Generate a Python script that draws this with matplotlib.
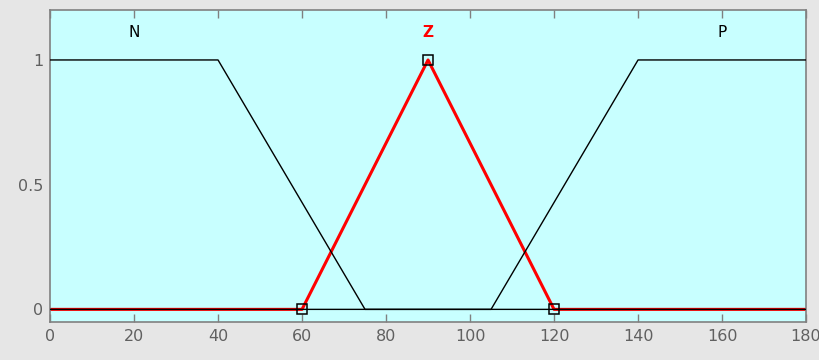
import numpy as np
import matplotlib
matplotlib.use("Agg")
import matplotlib.pyplot as plt

# membership functions (universe 0..180)
x_range = [0, 180]
mf_names = ["N", "Z", "P"]
n_params = [0, 0, 40, 75]       # trapmf
z_params = [60, 90, 120]        # trimf
p_params = [105, 140, 180, 180] # trapmf
label_x = [20, 90, 160]
xticks = [0, 20, 40, 60, 80, 100, 120, 140, 160, 180]
yticks = [0, 0.5, 1]
ytick_labels = ["0", "0.5", "1"]


def trap_points(p):
    a, b, c, d = p
    xs = [x_range[0], a, b, c, d, x_range[1]]
    ys = [0, 0, 1, 1, 0, 0]
    if a == b == x_range[0]:
        xs, ys = [x_range[0], c, d, x_range[1]], [1, 1, 0, 0]
    if c == d == x_range[1]:
        xs, ys = [x_range[0], a, b, x_range[1]], [0, 0, 1, 1]
    return xs, ys


fig = plt.figure(figsize=(8.2, 3.6), dpi=100, facecolor="#e6e6e6")
ax = fig.add_axes([0.061, 0.106, 0.922, 0.866])
ax.set_facecolor("#c8ffff")

a, b, c = z_params
ax.plot([x_range[0], a, b, c, x_range[1]], [0, 0, 1, 0, 0], color="red", lw=2.2, zorder=2)

for p in (n_params, p_params):
    xs, ys = trap_points(p)
    ax.plot(xs, ys, color="black", lw=1.0, zorder=3)

ax.plot([a, b, c], [0, 1, 0], ls="none", marker="s", ms=7, mfc="none",
        mec="black", mew=1.1, zorder=4)

colors = ["black", "red", "black"]
for name, lx, col in zip(mf_names, label_x, colors):
    ax.text(lx, 1.11, name, color=col, ha="center", va="center", fontsize=11,
            fontweight="bold" if col == "red" else "normal")

ax.set_xlim(*x_range)
ax.set_ylim(-0.05, 1.2)
ax.set_xticks(xticks)
ax.set_yticks(yticks)
ax.set_yticklabels(ytick_labels)
ax.tick_params(direction="in", top=True, right=False, length=6, width=1,
               color="#808080", labelcolor="#606060", labelsize=11.5, pad=5)
ax.tick_params(axis="y", length=0)
for s in ax.spines.values():
    s.set_color("#808080")
    s.set_linewidth(1.2)

fig.savefig("out.png", dpi=100, facecolor=fig.get_facecolor())
